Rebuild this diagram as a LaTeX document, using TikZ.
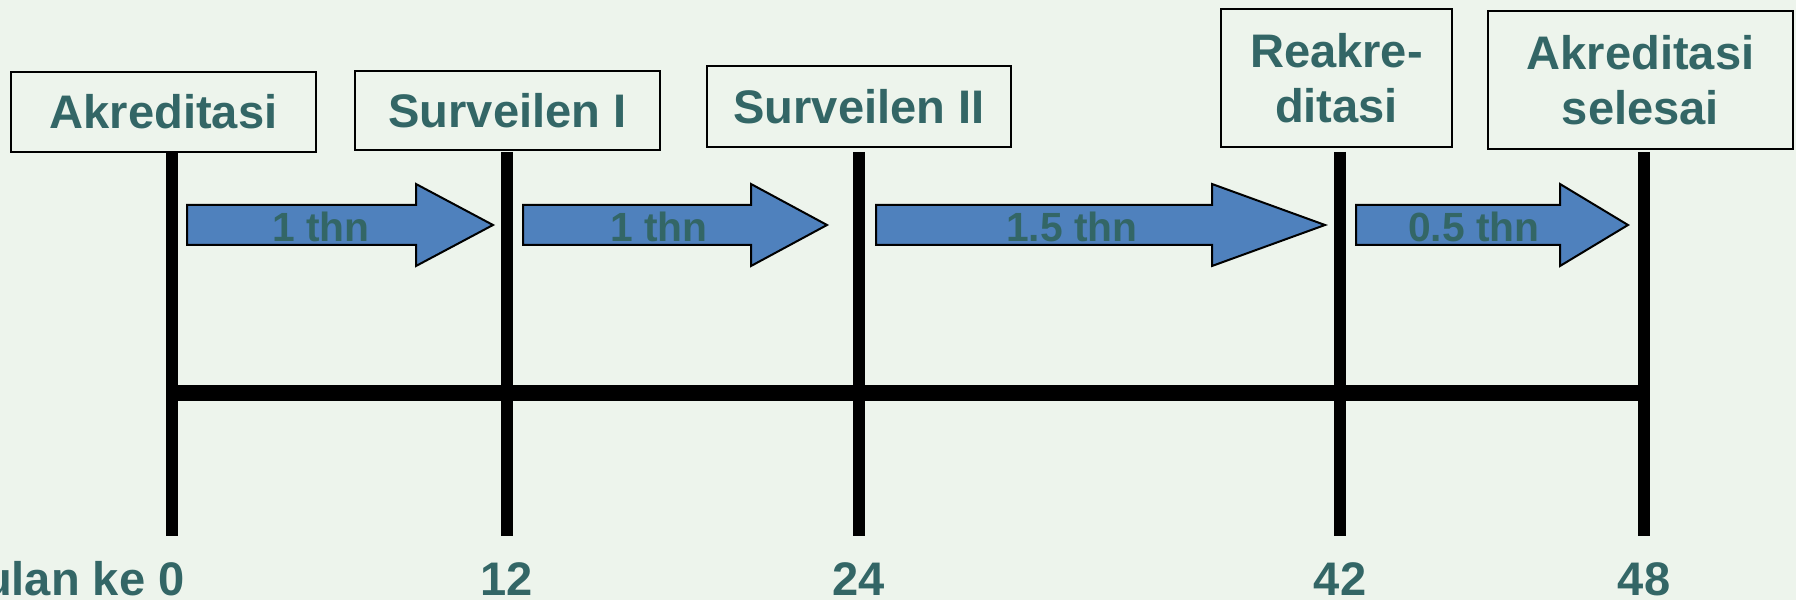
\documentclass[tikz,border=0pt]{standalone}
\usepackage{fontspec}
\setmainfont{Liberation Sans}

\definecolor{bgfill}{RGB}{237,244,236}
\definecolor{labeltext}{RGB}{51,102,102}
\definecolor{arrowblue}{RGB}{79,129,189}

\tikzset{
  milestone/.style={draw, line width=0.2mm, fill=bgfill, text=labeltext,
    font=\bfseries\fontsize{13.4}{15.6}\selectfont, align=center, inner sep=0pt},
  tick/.style={line width=1.2mm},
  axis/.style={line width=1.6mm},
  span/.style={draw, line width=0.2mm, fill=arrowblue, line join=miter},
  spanlabel/.style={text=labeltext, font=\bfseries\fontsize{11.6}{13}\selectfont, anchor=base},
  month/.style={text=labeltext, font=\bfseries\fontsize{13.4}{15}\selectfont, anchor=base},
}

\begin{document}
\begin{tikzpicture}[x=0.1mm, y=-0.1mm]
  \path[use as bounding box, fill=bgfill] (0,0) rectangle (1796,600);

  % milestones
  \node[milestone, minimum width=30.5mm, minimum height=8mm] (akr) at (163.5,112) {Akreditasi};
  \node[milestone, minimum width=30.5mm, minimum height=7.9mm] (sv1) at (507.5,110.5) {Surveilen I};
  \node[milestone, minimum width=30.4mm, minimum height=8.1mm] (sv2) at (859,106.5) {Surveilen II};
  \node[milestone, minimum width=23.1mm, minimum height=13.8mm] (reakr) at (1336.5,78) {Reakre-\\ditasi};
  \node[milestone, minimum width=30.5mm, minimum height=13.8mm] (done) at (1640.5,80) {Akreditasi\\selesai};

  % ticks and month numbers
  \foreach \x/\m [count=\i] in {172/0, 507/12, 859/24, 1340/42, 1644/48} {
    \coordinate (top\i) at (\x,152);
    \coordinate (bot\i) at (\x,536);
    \draw[tick] (top\i) -- (bot\i);
  }
  \node[month, anchor=base east] (m1) at (197,595) {Bulan ke 0};
  \foreach \x/\m [count=\i from 2] in {507/12, 859/24, 1340/42, 1644/48}
    \node[month] (m\i) at (\x,595) {\m};

  % time axis
  \coordinate (start) at (172,393);
  \coordinate (end) at (1644,393);
  \draw[axis] (start) -- (end);

  % durations between milestones
  \foreach \tail/\base/\tip/\lx/\txt [count=\i] in
      {187/416/493/321/1 thn, 523/751/827/659/1 thn,
       876/1212/1325/1072/1.5 thn, 1356/1560/1628/1474/0.5 thn} {
    \draw[span] (\tail,205) -- (\base,205) -- (\base,184) -- (\tip,225)
      -- (\base,266) -- (\base,245) -- (\tail,245) -- cycle;
    \node[spanlabel] (gap\i) at (\lx,241) {\txt};
  }
\end{tikzpicture}
\end{document}
